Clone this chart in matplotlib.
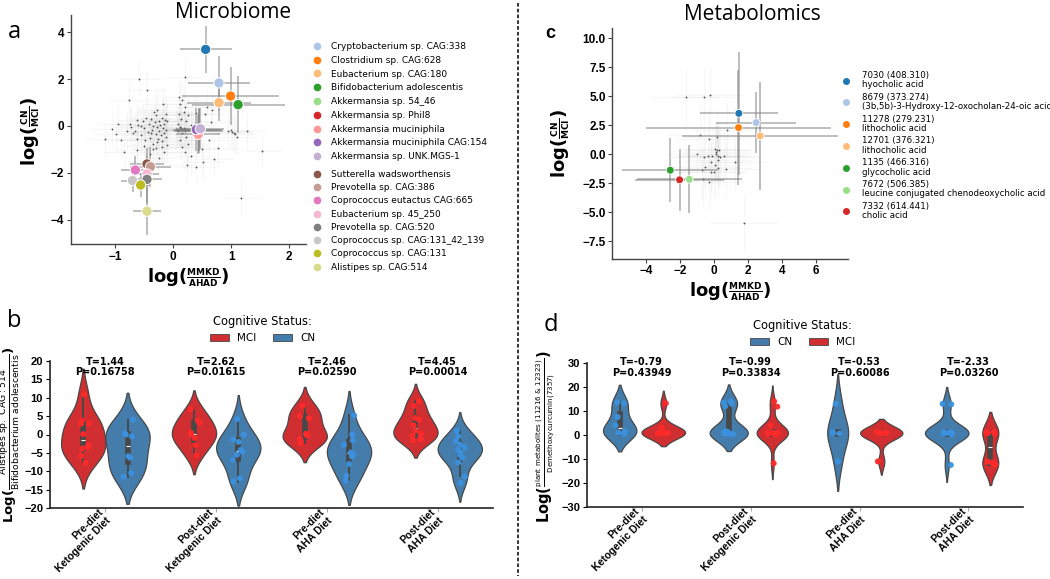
import numpy as np
import pandas as pd
import matplotlib
matplotlib.use('Agg')
import matplotlib.pyplot as plt
import seaborn as sns
from matplotlib.lines import Line2D
from matplotlib.patches import Patch

# ---------------- Panel a : microbiome scatter ----------------
micro_names = ['Cryptobacterium sp. CAG:338', 'Clostridium sp. CAG:628', 'Eubacterium sp. CAG:180',
               'Bifidobacterium adolescentis', 'Akkermansia sp. 54_46', 'Akkermansia sp. Phil8',
               'Akkermansia muciniphila', 'Akkermansia muciniphila CAG:154', 'Akkermansia sp. UNK.MGS-1',
               'Sutterella wadsworthensis', 'Prevotella sp. CAG:386', 'Coprococcus eutactus CAG:665',
               'Eubacterium sp. 45_250', 'Prevotella sp. CAG:520', 'Coprococcus sp. CAG:131_42_139',
               'Coprococcus sp. CAG:131', 'Alistipes sp. CAG:514']
# first entry: unlabeled top taxon (no legend entry), then the 17 named taxa
micro_x = [0.56, 0.79, 0.99, 0.79, 1.12, 0.45, 0.44, 0.43, 0.40, 0.47,
           -0.45, -0.39, -0.65, -0.45, -0.45, -0.70, -0.56, -0.45]
micro_y = [3.27, 1.84, 1.28, 1.00, 0.91, -0.18, -0.20, -0.36, -0.15, -0.12,
           -1.62, -1.74, -1.88, -2.05, -2.28, -2.33, -2.52, -3.64]
micro_xerr = [0.45, 0.53, 0.83, 0.55, 0.80, 0.40, 0.42, 0.38, 0.40, 0.40,
              0.30, 0.35, 0.25, 0.20, 0.25, 0.20, 0.15, 0.24]
micro_yerr = [1.00, 1.16, 1.22, 0.80, 1.22, 0.90, 0.95, 0.85, 0.90, 0.88,
              0.70, 0.85, 0.60, 0.50, 1.00, 0.50, 0.50, 1.03]

bg_a_x = [-1.18, -1.05, -0.98, -0.90, -0.85, -0.75, -0.72, -0.70, -0.65, -0.63, -0.60, -0.58, -0.55,
          -0.52, -0.50, -0.48, -0.46, -0.45, -0.44, -0.42, -0.40, -0.38, -0.36, -0.35, -0.34, -0.32,
          -0.30, -0.29, -0.28, -0.26, -0.25, -0.24, -0.22, -0.21, -0.20, -0.19, -0.18, -0.17, -0.16,
          -0.15, -0.14, -0.13, -0.12, -0.12, -0.11, -0.30, -0.40, -0.50, -0.25, -0.76, -0.62, -0.33,
          -0.27, -0.45, -0.20, -0.15, -0.35, -0.10, -0.28, -0.38, -0.55, -0.62, -0.80, -0.95,
          0.10, 0.15, 0.12, 0.20, 0.18, 0.10, 0.25, 0.14, 0.22, 0.09, 0.30, 0.12, 0.18, 0.24, 0.28,
          0.10, 0.14, 0.20, 0.32, 0.06, 0.16, 0.22, 0.12, 0.26, 0.15, 0.20, 0.30, 0.24, 0.39, 0.52,
          0.71, 0.78, 0.21, 0.66, 0.58, 0.67, 0.55, 0.62, 0.50, 0.40, 0.05, 0.08, 0.13, 0.17, 0.21,
          0.26, 0.30, 0.34, 1.01, 1.05, 1.07, 1.10, 1.27, 1.53, 1.17, 0.95, 1.00]
bg_a_y = [-0.57, -0.12, -0.35, -0.60, -1.10, 0.10, -0.05, -0.30, -0.20, -1.03, 0.05, 2.00, -0.40,
          0.20, -0.10, -0.60, 0.35, 1.54, -0.25, 0.10, -0.50, 0.30, -0.15, 0.00, -0.75, 0.15,
          -0.35, 0.45, -0.05, -0.55, 0.20, -0.20, 0.05, -0.40, 0.35, -0.65, -0.10, 0.94, 0.10,
          -0.30, 0.25, -0.45, -0.15, 0.50, -0.80, -0.95, -1.20, -0.85, -1.35, 1.11, -0.55, 0.60,
          -0.70, -1.50, -0.90, -1.10, -1.00, 0.20, 0.70, -0.30, 0.00, 0.25, -0.20, 0.10,
          1.25, 1.10, 0.95, 0.80, 0.60, 0.50, 0.45, 0.30, 0.20, 0.10, 0.05, -0.05, -0.10, -0.12,
          -0.15, -0.15, -0.18, -0.20, -0.20, -0.18, -0.30, -0.45, -0.60, -0.75, -0.90, -1.10, -1.30,
          -1.67, -1.74, -1.52, -1.41, -0.96, 2.11, 0.18, 0.82, 0.68, 0.50, -0.60, -1.00, 0.55, -0.12,
          -0.20, -0.10, -0.16, -0.13, -0.19, -0.10, -0.17, -0.24, -0.30, -0.34, -0.46, -0.22, -1.06,
          -3.06, -0.20, -0.15]
bg_a_xerr = 0.35
bg_a_yerr = 0.80

# ---------------- Panel c : metabolomics scatter ----------------
metab_labels = ['7030 (408.310)\nhyocholic acid',
                '8679 (373.274)\n(3b,5b)-3-Hydroxy-12-oxocholan-24-oic acid',
                '11278 (279.231)\nlithocholic acid',
                '12701 (376.321)\nlithocholic acid',
                '1135 (466.316)\nglycocholic acid',
                '7672 (506.385)\nleucine conjugated chenodeoxycholic acid',
                '7332 (614.441)\ncholic acid']
metab_x = [1.47, 2.49, 1.45, 2.73, -2.57, -1.45, -2.02]
metab_y = [3.53, 2.73, 2.30, 1.58, -1.38, -2.16, -2.21]
metab_xerr = [2.28, 2.35, 5.44, 4.60, 2.82, 3.10, 2.60]
metab_yerr = [5.30, 2.60, 5.00, 4.65, 2.78, 2.95, 2.70]

bg_c_x = [-1.63, -0.57, -0.22, 0.80, -0.80, -0.29, 0.20, -1.00, -0.61, -0.35, -0.12, 0.08, 0.18,
          0.29, 0.12, 0.24, 0.35, 0.61, -0.16, 0.22, 1.22, -0.55, 0.22, 0.69, -0.69, -0.18, -0.02,
          -0.65, -0.29, 1.78, 0.12, 0.05]
bg_c_y = [4.97, 4.97, 5.09, 2.13, 1.64, 1.35, 1.49, 0.06, -0.23, -0.17, -0.17, 0.49, 0.34,
          0.34, 0.06, -0.15, -0.23, -0.17, -0.66, -0.46, -0.66, -1.09, -1.18, -1.24, -1.38, -1.52,
          -1.52, -2.10, -2.39, -5.92, 0.20, -0.90]
bg_c_xerr = 2.0
bg_c_yerr = 2.5

# ---------------- Panels b and d : violins ----------------
diet_labels = ['Pre-diet\nKetogenic Diet', 'Post-diet\nKetogenic Diet', 'Pre-diet\nAHA Diet', 'Post-diet\nAHA Diet']

b_mci = [[10.9, 3.8, 3.0, 2.9, 0.1, -2.9, -3.4, -3.8, -5.8, -7.7],
         [6.8, 3.8, 3.2, 0.5, 0.0, -1.0, -2.9, -5.6],
         [7.8, 5.0, 4.4, 0.2, -0.3, -1.2, -2.4],
         [9.1, 7.8, 4.5, 4.0, 2.5, 1.0, 0.2, -0.3, -1.3, -1.6]]
b_cn = [[4.0, 0.3, 0.0, -0.5, -5.9, -6.3, -10.5, -11.5],
        [4.2, -0.1, -1.3, -2.0, -4.2, -4.7, -5.5, -6.9, -11.9, -12.8],
        [5.2, 0.0, -1.6, -2.8, -4.9, -5.4, -6.0, -8.0, -11.2, -12.5],
        [1.0, -0.5, -1.8, -2.7, -3.5, -4.0, -4.8, -5.6, -6.3, -7.6, -11.4, -13.2]]
b_T = [1.44, 2.62, 2.46, 4.45]
b_P = [0.16758, 0.01615, 0.02590, 0.00014]

d_cn = [[13.6, 13.2, 7.5, 4.0, 1.5, 1.0, 0.6, 0.5],
        [14.0, 13.5, 13.0, 12.0, 1.5, 1.2, 1.1, 1.0, 0.8, 0.8, 0.6, 0.5, 0.4],
        [13.0, 1.2, 0.9, 0.6, -11.0],
        [13.0, 12.8, 1.2, 1.1, 1.0, 1.0, 0.9, 0.8, 0.8, 0.7, 0.6, 0.5, 0.4, -12.5]]
d_mci = [[13.2, 3.0, 1.2, 1.0, 0.9, 0.8, 0.8, 0.7, 0.6],
         [14.0, 11.8, 4.0, 1.2, 1.0, 0.9, 0.8, 0.8, 0.7, 0.6, 0.6, 0.5, 0.5, 0.4, -11.8],
         [1.2, 1.0, 1.0, 0.8, 0.8, 0.6, 0.5, -11.0],
         [1.2, 1.0, 1.0, 0.8, 0.6, -11.0, -11.5, -11.8, -12.0, -12.4]]
d_T = [-0.79, -0.99, -0.53, -2.33]
d_P = [0.43949, 0.33834, 0.60086, 0.03260]

# ================= drawing =================
W, H = 1050, 579
fig = plt.figure(figsize=(W / 100, H / 100), dpi=100)
mpl_tab20 = plt.get_cmap('tab20').colors
TICKFONT = 'Liberation Sans'
pal = {'MCI': '#e41a1c', 'CN': '#377eb8'}
pts_pal = {'MCI': '#ff2a2a', 'CN': '#3b92e0'}


def fa(l, t, r, b):
    return [l / W, 1 - b / H, (r - l) / W, (b - t) / H]


def style_ticks(ax, size=8):
    for lab in ax.get_xticklabels() + ax.get_yticklabels():
        lab.set_fontfamily(TICKFONT)
        lab.set_fontweight('bold')
        lab.set_fontsize(size)


def despine(ax, color='#444444', lw=1.0):
    for s in ['top', 'right']:
        ax.spines[s].set_visible(False)
    for s in ['left', 'bottom']:
        ax.spines[s].set_color(color)
        ax.spines[s].set_linewidth(lw)


# ---- panel a ----
axA = fig.add_axes(fa(71, 15, 306, 244))
axA.errorbar(bg_a_x, bg_a_y, xerr=bg_a_xerr, yerr=bg_a_yerr, fmt='none', ecolor='#cccccc',
             alpha=0.15, elinewidth=0.8, zorder=1)
axA.scatter(bg_a_x, bg_a_y, s=1.8, color='#555555', zorder=2, linewidths=0)
a_colors = [mpl_tab20[i] for i in range(len(micro_x))]
for xi, yi, xe, ye in zip(micro_x, micro_y, micro_xerr, micro_yerr):
    axA.errorbar(xi, yi, xerr=xe, yerr=ye, fmt='none', ecolor='#808080', alpha=0.55,
                 elinewidth=1.3, zorder=3)
axA.scatter(micro_x, micro_y, s=55, c=a_colors, edgecolors='white', linewidths=0.7, zorder=4)
axA.set_xlim(-1.76, 2.29)
axA.set_ylim(-5.04, 4.74)
axA.set_xticks([-1, 0, 1, 2])
axA.set_yticks([-4, -2, 0, 2, 4])
despine(axA)
axA.tick_params(length=3, width=0.8, color='#444444', pad=2)
style_ticks(axA, 8.5)
axA.set_ylabel(r'$\mathbf{log(}\genfrac{}{}{0.8}{2}{\mathbf{CN}}{\mathbf{MCI}}\mathbf{)}$', fontsize=13)
axA.set_xlabel(r'$\mathbf{log(}\genfrac{}{}{0.8}{2}{\mathbf{MMKD}}{\mathbf{AHAD}}\mathbf{)}$', fontsize=13)
axA.yaxis.set_label_coords(-0.119, 0.49)
axA.xaxis.set_label_coords(0.50, -0.10)

leg_fs = 6.5
h1 = [Line2D([], [], marker='o', ls='', color=a_colors[i + 1], markersize=4.5) for i in range(9)]
h2 = [Line2D([], [], marker='o', ls='', color=a_colors[i + 1], markersize=4.5) for i in range(9, 17)]
legA1 = fig.legend(h1, micro_names[:9], loc='upper left', bbox_to_anchor=(312 / W, 1 - 42 / H),
                   frameon=False, prop={'family': 'DejaVu Sans', 'size': leg_fs}, handlelength=1.0,
                   handletextpad=1.15, labelspacing=0.53, borderpad=0, borderaxespad=0)
legA2 = fig.legend(h2, micro_names[9:], loc='upper left', bbox_to_anchor=(312 / W, 1 - 170 / H),
                   frameon=False, prop={'family': 'DejaVu Sans', 'size': leg_fs}, handlelength=1.0,
                   handletextpad=1.15, labelspacing=0.47, borderpad=0, borderaxespad=0)

# ---- panel c ----
axC = fig.add_axes(fa(612, 28, 848, 259))
axC.errorbar(bg_c_x, bg_c_y, xerr=bg_c_xerr, yerr=bg_c_yerr, fmt='none', ecolor='#cccccc',
             alpha=0.15, elinewidth=0.8, zorder=1)
axC.scatter(bg_c_x, bg_c_y, s=1.8, color='#555555', zorder=2, linewidths=0)
c_colors = [mpl_tab20[i] for i in range(len(metab_x))]
for xi, yi, xe, ye in zip(metab_x, metab_y, metab_xerr, metab_yerr):
    axC.errorbar(xi, yi, xerr=xe, yerr=ye, fmt='none', ecolor='#808080', alpha=0.55,
                 elinewidth=1.3, zorder=3)
axC.scatter(metab_x, metab_y, s=32, c=c_colors, edgecolors='white', linewidths=0.6, zorder=4)
axC.set_xlim(-6.0, 7.9)
axC.set_ylim(-9.05, 10.9)
axC.set_xticks([-4, -2, 0, 2, 4, 6])
axC.set_yticks([-7.5, -5.0, -2.5, 0.0, 2.5, 5.0, 7.5, 10.0])
axC.set_yticklabels(['−7.5', '−5.0', '−2.5', '0.0', '2.5', '5.0', '7.5', '10.0'])
despine(axC)
axC.tick_params(length=3, width=0.8, color='#444444', pad=1.5)
style_ticks(axC, 8.5)
axC.set_ylabel(r'$\mathbf{log(}\genfrac{}{}{0.8}{2}{\mathbf{CN}}{\mathbf{MCI}}\mathbf{)}$', fontsize=13)
axC.set_xlabel(r'$\mathbf{log(}\genfrac{}{}{0.8}{2}{\mathbf{MMKD}}{\mathbf{AHAD}}\mathbf{)}$', fontsize=13)
axC.yaxis.set_label_coords(-0.165, 0.50)
axC.xaxis.set_label_coords(0.50, -0.095)
hc = [Line2D([], [], marker='o', ls='', color=c, markersize=4.0) for c in c_colors]
legC = fig.legend(hc, metab_labels, loc='upper left', bbox_to_anchor=(842 / W, 1 - 71 / H),
                  frameon=False, prop={'family': 'DejaVu Sans', 'size': 6.2}, handlelength=1.0,
                  handletextpad=1.3, labelspacing=0.4, borderpad=0, borderaxespad=0)
for t in legC.get_texts():
    t.set_linespacing(1.05)


# ---- violins ----
def make_df(first, second, first_name, second_name):
    rows = []
    for d, g1, g2 in zip(diet_labels, first, second):
        rows += [(d, first_name, v) for v in g1]
        rows += [(d, second_name, v) for v in g2]
    return pd.DataFrame(rows, columns=['diet', 'status', 'val'])


def violin_panel(rect, df, hue_order, T, P, ylim, yticks, ylabel, ylab_fs, text_y, leg_x, leg_y,
                 norm):
    ax = fig.add_axes(rect)
    sns.violinplot(data=df, x='diet', y='val', hue='status', hue_order=hue_order, order=diet_labels,
                   palette=pal, ax=ax, density_norm=norm, linewidth=0.9, inner='box', legend=False,
                   saturation=0.8)
    sns.stripplot(data=df, x='diet', y='val', hue='status', hue_order=hue_order, order=diet_labels,
                  palette=pts_pal, dodge=True, jitter=True, size=4.3, ax=ax, legend=False,
                  alpha=0.95, zorder=5)
    ax.set_xlim(-0.5, 3.5)
    ax.set_ylim(*ylim)
    ax.set_yticks(yticks)
    ax.set_yticklabels([('−' + str(abs(t))) if t < 0 else str(t) for t in yticks])
    despine(ax, color='#222222', lw=1.2)
    ax.tick_params(axis='y', length=3, width=0.8, pad=2)
    ax.tick_params(axis='x', length=3, width=0.8, color='#aaaaaa', pad=2)
    ax.set_xticks(range(4))
    ax.set_xticklabels(diet_labels, rotation=45, ha='right', va='center', rotation_mode='anchor')
    style_ticks(ax, 8)
    for lab in ax.get_xticklabels():
        lab.set_fontsize(7.5)
    ax.set_xlabel('')
    ax.set_ylabel(ylabel, fontsize=ylab_fs)
    for i, (t, p) in enumerate(zip(T, P)):
        ax.text(i, text_y, f'T={t:.2f}\nP={p:.5f}', ha='center', va='center', fontsize=7,
                fontweight='bold', family='DejaVu Sans', linespacing=1.05)
    handles = [Patch(facecolor=sns.desaturate(pal[h], 0.8), edgecolor='#444444', linewidth=0.6)
               for h in hue_order]
    ax.legend(handles, hue_order, title='Cognitive Status:', loc='lower center',
              bbox_to_anchor=(leg_x, leg_y), ncol=2, frameon=False,
              prop={'family': 'DejaVu Sans', 'size': 7.5}, title_fontproperties={'family': 'DejaVu Sans', 'size': 8.3},
              handlelength=1.8, handleheight=0.65, handletextpad=0.8, columnspacing=1.6,
              borderpad=0, borderaxespad=0)
    return ax


dfb = make_df(b_mci, b_cn, 'MCI', 'CN')
axB = violin_panel(fa(50, 361, 493, 508), dfb, ['MCI', 'CN'], b_T, b_P, (-20, 20),
                   [-20, -15, -10, -5, 0, 5, 10, 15, 20],
                   r'$\mathbf{Log(}\frac{\mathrm{Alistipes\ sp.\ CAG:514}}{\mathrm{Bifidobacterium\ adolescentis}}\mathbf{)}$',
                   9.5, 18.4, 0.48, 1.12, 'width')
axB.yaxis.set_label_coords(-0.063, 0.5)

dfd = make_df(d_cn, d_mci, 'CN', 'MCI')
axD = violin_panel(fa(587, 363, 1023, 507), dfd, ['CN', 'MCI'], d_T, d_P, (-30, 30),
                   [-30, -20, -10, 0, 10, 20, 30],
                   r'$\mathbf{Log(}\genfrac{}{}{0.6}{2}{\mathrm{plant\ metabolites\ (11216\ &\ 12323)}}{\mathrm{Demethoxycurcumin(7357)}}\mathbf{)}$',
                   10.5, 28.2, 0.495, 1.11, 'area')
axD.yaxis.set_label_coords(-0.067, 0.49)

# ---- titles, panel letters, separator ----
fig.text(233 / W, 1 - 12 / H, 'Microbiome', ha='center', va='center', fontsize=15, family='Open Sans')
fig.text(752 / W, 1 - 14 / H, 'Metabolomics', ha='center', va='center', fontsize=15, family='Open Sans')
for lab, (px, py) in zip('abd', [(14, 32), (14, 321), (551, 325)]):
    fig.text(px / W, 1 - py / H, lab, ha='center', va='center', fontsize=17, family='Open Sans')
fig.text(550 / W, 1 - 34 / H, 'c', ha='center', va='center', fontsize=13, family='Liberation Sans',
         fontweight='bold')
fig.add_artist(Line2D([518 / W, 518 / W], [1 - 3 / H, 1 - 576 / H], transform=fig.transFigure,
                      color='#222222', ls=(0, (2.0, 1.2)), lw=1.3))

fig.savefig('out.png', dpi=100)
